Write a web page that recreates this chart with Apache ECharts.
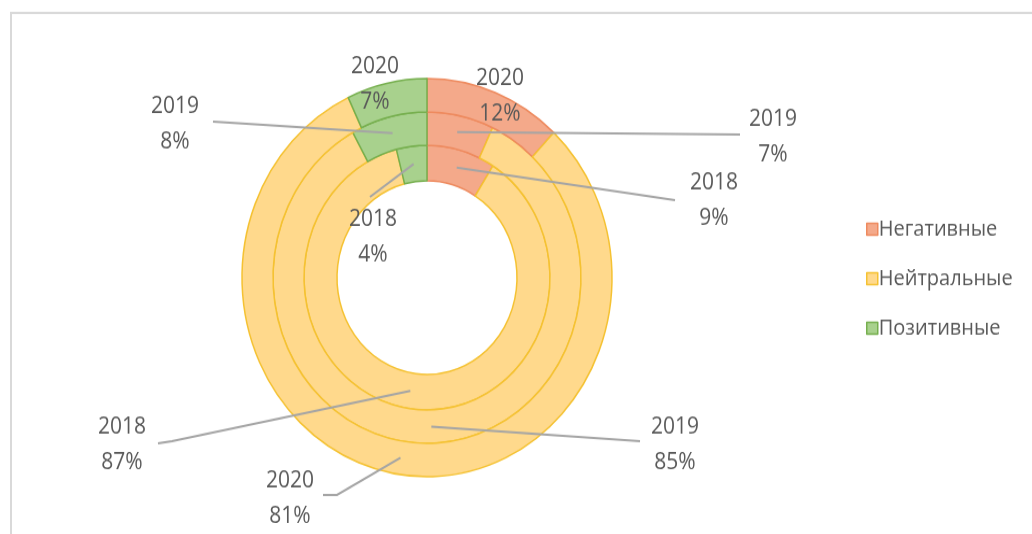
<!DOCTYPE html>
<html>
<head>
<meta charset="utf-8">
<script src="https://cdn.jsdelivr.net/npm/echarts@6/dist/echarts.min.js"></script>
<style>
  html, body { margin: 0; padding: 0; background: #fff; }
  #wrap { width: 1032px; height: 534px; overflow: hidden; position: relative; }
  /* the chart is drawn slightly taller than wide */
  #chart { position: absolute; left: 0; top: 0; width: 1032px; height: 497px;
           transform: scaleY(1.076); transform-origin: 0 0; }
</style>
</head>
<body>
<div id="wrap"><div id="chart"></div></div>
<script>
// Tone of publications by year, share of each category (%)
const categories = ['Негативные', 'Нейтральные', 'Позитивные'];
const years = ['2018', '2019', '2020'];
const values2018 = [9, 87, 4];
const values2019 = [7, 85, 8];
const values2020 = [12, 81, 7];
const seriesValues = [values2018, values2019, values2020];

// Palette: fill and outline per category
const fills = ['#F4A98A', '#FFD98C', '#A8D18D'];
const borders = ['#EE8A5E', '#F5C232', '#76AF4E'];

// Geometry of the rings (inner ring = 2018)
const CX = 427, CY = 258;
const ringRadii = [[90, 123], [123, 154], [154, 185]];

// Where each data label sits ([x, y] of the text centre) and the
// elbow points of its leader line; null = label inside the slice, no line.
const labelAnchors = [
  [ { at: [714, 187], line: [[675, 186]] },
    { at: [122, 414], line: [[172, 410], [158, 412]] },
    { at: [373, 221], line: [[370, 183]] } ],
  [ { at: [773, 128], line: [[740, 125]] },
    { at: [675, 414], line: [[640, 410]] },
    { at: [175, 116], line: [[213, 113]] } ],
  [ { at: [500, 90], line: null },
    { at: [290, 464], line: [[337, 460], [323, 460]] },
    { at: [375, 79], line: null } ]
];

// Point in the middle of a slice (angle measured clockwise from the top)
function sliceMid(seriesIdx, dataIdx) {
  const vals = seriesValues[seriesIdx];
  const total = vals.reduce((a, b) => a + b, 0);
  let before = 0;
  for (let i = 0; i < dataIdx; i++) before += vals[i];
  const frac = (before + vals[dataIdx] / 2) / total;
  const ang = frac * Math.PI * 2;
  const r = (ringRadii[seriesIdx][0] + ringRadii[seriesIdx][1]) / 2;
  return [CX + r * Math.sin(ang), CY - r * Math.cos(ang)];
}

const textColor = '#595959';
const fontFamily = 'Open Sans, Noto Sans, sans-serif';

// Filled rings
const ringSeries = years.map((year, s) => ({
  name: year,
  type: 'pie',
  z: 2,
  center: [CX, CY],
  radius: ringRadii[s],
  startAngle: 90,
  clockwise: true,
  silent: true,
  label: { show: false },
  labelLine: { show: false },
  data: categories.map((c, i) => ({
    name: c,
    value: seriesValues[s][i],
    itemStyle: { color: fills[i], borderColor: borders[i], borderWidth: 1.5 }
  }))
}));

// Same rings again, transparent, on top: they carry labels and leader lines
const labelSeries = years.map((year, s) => ({
  name: year + ' labels',
  type: 'pie',
  z: 5,
  center: [CX, CY],
  radius: ringRadii[s],
  startAngle: 90,
  clockwise: true,
  silent: true,
  avoidLabelOverlap: false,
  itemStyle: { color: 'rgba(0,0,0,0)', borderWidth: 0 },
  label: {
    show: true,
    position: 'outside',
    formatter: function (p) { return year + '\n' + p.value + '%'; },
    color: textColor,
    fontFamily: fontFamily,
    fontSize: 21,
    lineHeight: 33,
    align: 'center'
  },
  labelLine: {
    show: true,
    lineStyle: { color: '#A5A5A5', width: 2 }
  },
  labelLayout: function (params) {
    const a = labelAnchors[s][params.dataIndex];
    const res = { x: a.at[0], y: a.at[1], align: 'center', verticalAlign: 'middle' };
    if (a.line) {
      res.labelLinePoints = [sliceMid(s, params.dataIndex)].concat(a.line);
    }
    return res;
  },
  data: categories.map((c, i) => ({
    name: c,
    value: seriesValues[s][i],
    labelLine: { show: !!labelAnchors[s][i].line }
  }))
}));

const chart = echarts.init(document.getElementById('chart'), null, { renderer: 'canvas' });
chart.setOption({
  animation: false,
  backgroundColor: '#ffffff',
  graphic: [{
    type: 'polyline',
    shape: { points: [[11, 560], [11, 12], [1060, 12]] },
    style: { stroke: '#D9D9D9', lineWidth: 2, fill: null },
    silent: true
  }],
  legend: {
    orient: 'vertical',
    left: 861,
    top: 198,
    itemGap: 26,
    itemWidth: 11,
    itemHeight: 11,
    icon: 'rect',
    data: categories,
    itemStyle: { borderWidth: 1.5 },
    textStyle: { color: textColor, fontFamily: fontFamily, fontSize: 20, padding: [0, 0, 0, -4] }
  },
  series: ringSeries.concat(labelSeries)
});
</script>
</body>
</html>
